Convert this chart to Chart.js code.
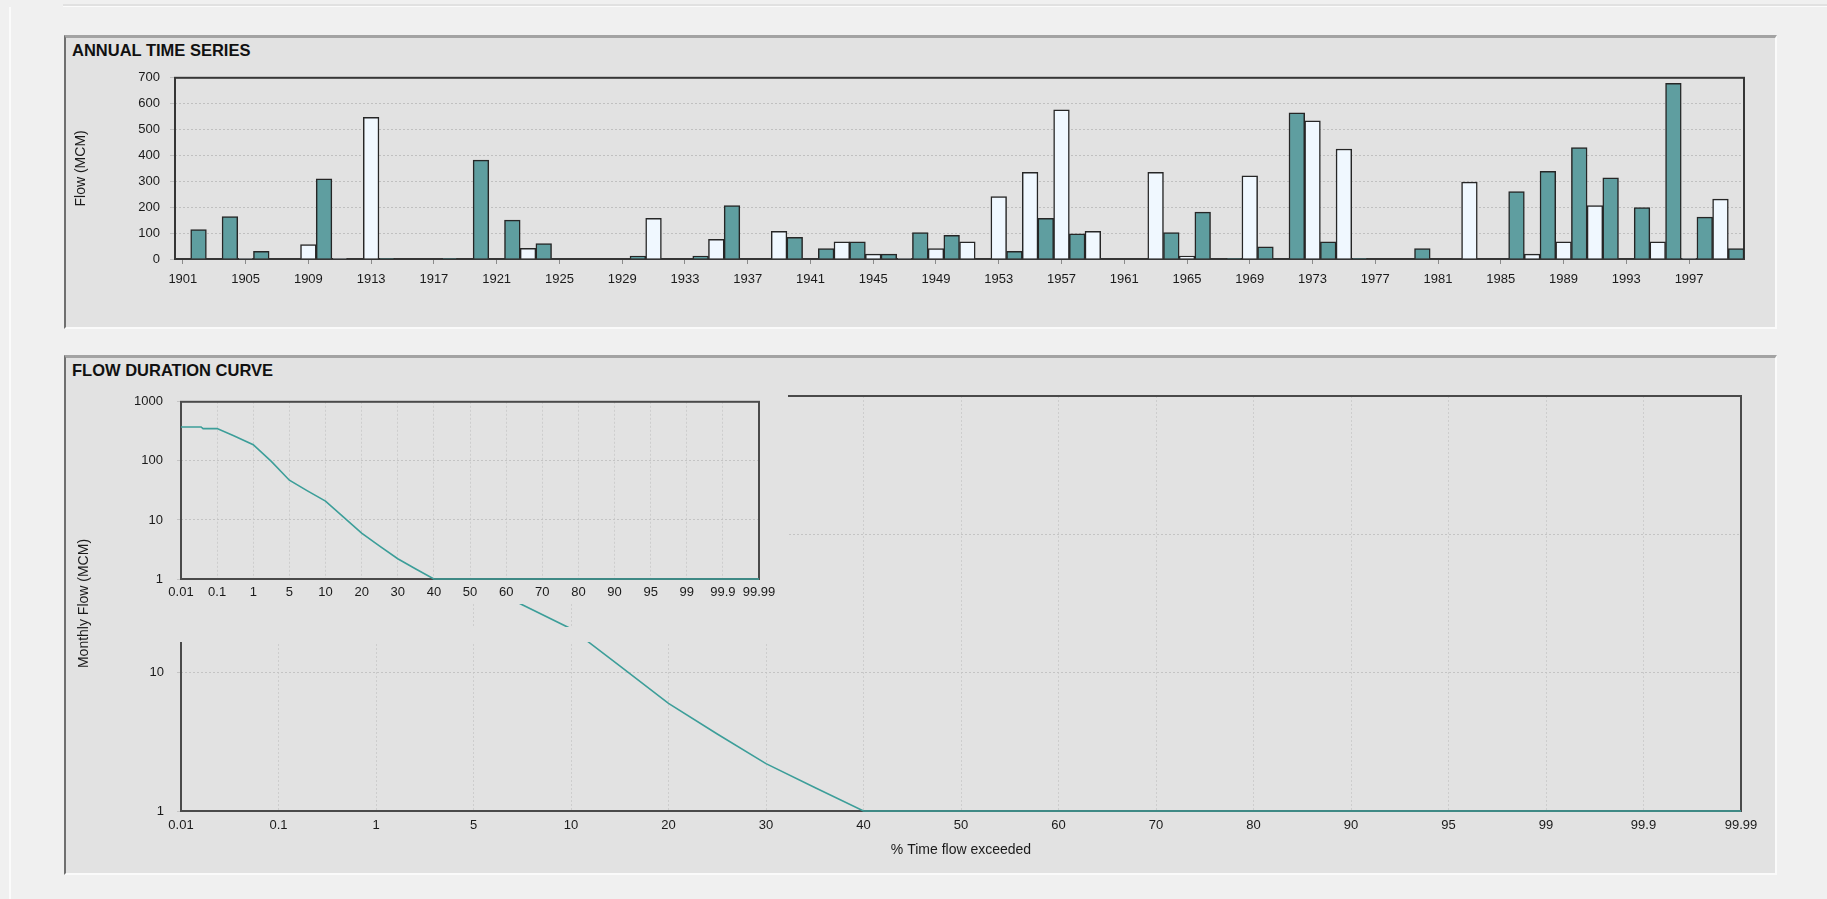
<!DOCTYPE html>
<html>
<head>
<meta charset="utf-8">
<title>Annual time series / Flow duration curve</title>
<script src="https://cdn.jsdelivr.net/npm/chart.js"></script>
<style>
    html, body { margin: 0; padding: 0; }
    body {
        width: 1827px; height: 899px; position: relative; overflow: hidden;
        background: #f0f0f0; font-family: 'Liberation Sans', Arial, sans-serif;
    }
    .topline { position: absolute; left: 63px; right: 0; top: 4px; height: 2px; background: #e1e1e1; border-bottom: 1px solid #fbfbfb; }
    .leftline { position: absolute; left: 9px; top: 7px; bottom: 0; width: 2px; background: #fbfbfb; }
    .panel {
        position: absolute; left: 64px; width: 1713px; box-sizing: border-box; background: #e2e2e2;
        border-top: 3px solid #a3a3a3; border-left: 2px solid #6f6f6f;
        border-right: 2px solid #fafafa; border-bottom: 2px solid #fafafa;
    }
    .titulo { position: absolute; left: 72px; font-weight: bold; font-size: 16.5px; line-height: 18px; color: #111; }
    canvas { position: absolute; }
    .cover {
        position: absolute; left: 100px; top: 380px; width: 688px; height: 262px; background: #e2e2e2;
        clip-path: path(evenodd, "M0 0H688V262H0Z M340 224H510V247H340Z");
    }
</style>
</head>
<body>
<div class="topline"></div>
<div class="leftline"></div>

<div class="panel" style="top:35px; height:294px;"></div>
<div class="titulo" style="top:41px;">ANNUAL TIME SERIES</div>
<canvas id="anual" width="1700" height="262" style="left:66px; top:60px;"></canvas>

<div class="panel" style="top:355px; height:520px;"></div>
<div class="titulo" style="top:361px;">FLOW DURATION CURVE</div>
<canvas id="fdcGrande" width="1700" height="495" style="left:66px; top:370px;"></canvas>
<div class="cover"></div>
<canvas id="fdcPequeno" width="700" height="230" style="left:100px; top:380px;"></canvas>

<script>
const years = [
    1901, 1902, 1903, 1904, 1905, 1906, 1907, 1908, 1909, 1910,
    1911, 1912, 1913, 1914, 1915, 1916, 1917, 1918, 1919, 1920,
    1921, 1922, 1923, 1924, 1925, 1926, 1927, 1928, 1929, 1930,
    1931, 1932, 1933, 1934, 1935, 1936, 1937, 1938, 1939, 1940,
    1941, 1942, 1943, 1944, 1945, 1946, 1947, 1948, 1949, 1950,
    1951, 1952, 1953, 1954, 1955, 1956, 1957, 1958, 1959, 1960,
    1961, 1962, 1963, 1964, 1965, 1966, 1967, 1968, 1969, 1970,
    1971, 1972, 1973, 1974, 1975, 1976, 1977, 1978, 1979, 1980,
    1981, 1982, 1983, 1984, 1985, 1986, 1987, 1988, 1989, 1990,
    1991, 1992, 1993, 1994, 1995, 1996, 1997, 1998, 1999, 2000
];

// even years (teal)
const tealFlow = [
    null, 114, null, 164, null, 30, null, null, null, 310,
    null, null, null, 3, null, null, null, 3, null, 382,
    null, 150, null, 60, null, null, null, null, null, 11,
    null, null, null, 11, null, 206, null, null, null, 84,
    null, 40, null, 66, null, 19, null, 102, null, 91,
    null, null, null, 30, null, 157, null, 97, null, null,
    null, null, null, 102, null, 181, null, 3, null, 47,
    null, 565, null, 66, null, 3, null, null, null, 40,
    null, null, null, null, null, 260, null, 339, null, 430,
    null, 314, null, 199, null, 679, null, 162, null, 40
];

// odd years (white)
const whiteFlow = [
    null, null, null, null, 3, null, null, null, 56, null,
    3, null, 547, null, null, null, null, null, null, null,
    null, null, 41, null, null, null, null, null, null, null,
    157, null, null, null, 76, null, null, null, 107, null,
    null, null, 66, null, 19, null, 3, null, 40, null,
    66, null, 241, null, 335, null, 576, null, 107, null,
    null, null, 335, null, 11, null, null, null, 321, null,
    null, null, 534, null, 425, null, null, null, null, null,
    null, null, 297, null, null, null, 19, null, 66, null,
    206, null, null, null, 66, null, 3, null, 231, null
];

const yearTicks = [1901, 1905, 1909, 1913, 1917, 1921, 1925, 1929, 1933, 1937, 1941, 1945, 1949,
    1953, 1957, 1961, 1965, 1969, 1973, 1977, 1981, 1985, 1989, 1993, 1997];

const pctTicks = [0.01, 0.1, 1, 5, 10, 20, 30, 40, 50, 60, 70, 80, 90, 95, 99, 99.9, 99.99];
const pctLabels = ['0.01', '0.1', '1', '5', '10', '20', '30', '40', '50', '60', '70', '80', '90', '95', '99', '99.9', '99.99'];
const flowTicks = [1, 10, 100, 1000];

const fdcPercent = [0.01, 0.06, 0.065, 0.1, 0.5, 1, 3, 5, 7.5, 10, 15, 20, 25, 30, 35, 40, 99.99];
const fdcFlow = [375, 375, 352, 352, 268, 188, 98, 47, 31, 20.8, 11.2, 6, 3.6, 2.2, 1.48, 1, 1];

Chart.defaults.font.family = "'Liberation Sans', Arial, sans-serif";
Chart.defaults.font.size = 13;
Chart.defaults.color = '#1a1a1a';

// moldura da área do gráfico
const plotFrame = {
    id: 'plotFrame',
    beforeDatasetsDraw(chart, args, opts) {
        const { ctx, chartArea: a } = chart;
        ctx.save();
        ctx.strokeStyle = opts.color;
        ctx.lineWidth = opts.width;
        ctx.strokeRect(a.left, a.top, a.right - a.left, a.bottom - a.top);
        ctx.restore();
    }
};

// posição no eixo: rótulos igualmente espaçados
function pctToPos(p) {
    for (let i = 0; i < pctTicks.length - 1; i++) {
        if (p <= pctTicks[i + 1]) return i + (p - pctTicks[i]) / (pctTicks[i + 1] - pctTicks[i]);
    }
    return pctTicks.length - 1;
}

new Chart(document.getElementById('anual'), {
    type: 'bar',
    data: {
        labels: years,
        datasets: [
            { label: 'Even years', data: tealFlow, backgroundColor: '#5f9ea0' },
            { label: 'Odd years', data: whiteFlow, backgroundColor: '#f0f8ff' }
        ]
    },
    options: {
        responsive: false,
        animation: false,
        events: [],
        layout: { padding: { top: 12, right: 22, left: 0, bottom: 0 } },
        datasets: {
            bar: { grouped: false, barPercentage: 1, categoryPercentage: 1, borderColor: '#262626', borderWidth: 1.5 }
        },
        plugins: {
            legend: { display: false },
            tooltip: { enabled: false },
            plotFrame: { color: '#363636', width: 2 }
        },
        scales: {
            x: {
                offset: true,
                grid: {
                    offset: false, drawOnChartArea: false, tickLength: 5,
                    color: c => yearTicks.includes(years[c.index]) ? '#8a8a8a' : 'rgba(0,0,0,0)'
                },
                border: { display: false },
                ticks: {
                    autoSkip: false, maxRotation: 0, padding: 8,
                    callback: (v, i) => yearTicks.includes(years[i]) ? String(years[i]) : ''
                },
                afterFit: s => { s.height = 63; }
            },
            y: {
                min: 0, max: 700,
                ticks: { stepSize: 100, padding: 10 },
                grid: { color: '#c0c0c0', tickLength: 5 },
                border: { display: false, dash: [2, 2] },
                title: { display: true, text: 'Flow (MCM)', font: { size: 14 }, padding: { top: 7, bottom: 0 } },
                afterFit: s => { s.width = 109; }
            }
        }
    },
    plugins: [plotFrame]
});

function fdcChart(id, cfg) {
    const points = fdcPercent.map((p, i) => ({ x: pctToPos(p), y: fdcFlow[i] }));
    return new Chart(document.getElementById(id), {
        type: 'line',
        data: {
            datasets: [{
                label: 'Flow duration', data: points, borderColor: '#3c9e99', borderWidth: 1.6,
                pointRadius: 0, tension: 0, clip: 4
            }]
        },
        options: {
            responsive: false,
            animation: false,
            events: [],
            layout: { padding: cfg.padding },
            plugins: {
                legend: { display: false },
                tooltip: { enabled: false },
                plotFrame: { color: '#4a4a4a', width: 2 }
            },
            scales: {
                x: {
                    type: 'linear', min: 0, max: pctTicks.length - 1,
                    afterBuildTicks: s => { s.ticks = pctTicks.map((t, i) => ({ value: i })); },
                    ticks: { autoSkip: false, maxRotation: 0, padding: cfg.xPad, callback: (v, i) => pctLabels[i] },
                    grid: { color: '#cdcdcd', drawTicks: false },
                    border: { display: false, dash: [2, 2] },
                    title: cfg.xTitle
                        ? { display: true, text: '% Time flow exceeded', font: { size: 14 }, padding: { top: 0, bottom: 6 } }
                        : { display: false },
                    afterFit: s => { s.height = cfg.xHeight; }
                },
                y: {
                    type: 'logarithmic', min: 1, max: 1000,
                    afterBuildTicks: s => { s.ticks = flowTicks.map(v => ({ value: v })); },
                    ticks: { padding: cfg.yPad, callback: v => String(v) },
                    grid: { color: '#c4c4c4', tickLength: 4 },
                    border: { display: false, dash: [2, 2] },
                    title: cfg.yTitle
                        ? { display: true, text: 'Monthly Flow (MCM)', font: { size: 14 }, padding: { top: 10, bottom: 0 } }
                        : { display: false },
                    afterFit: s => { s.width = cfg.yWidth; }
                }
            }
        },
        plugins: [plotFrame]
    });
}

fdcChart('fdcGrande', {
    padding: { top: 26, right: 25, left: 0, bottom: 0 },
    xHeight: 54, yWidth: 115, xPad: 7, yPad: 13, xTitle: true, yTitle: true
});

fdcChart('fdcPequeno', {
    padding: { top: 16, right: 41, left: 0, bottom: 0 },
    xHeight: 31, yWidth: 81, xPad: 6, yPad: 14, xTitle: false, yTitle: false
});
</script>
</body>
</html>
